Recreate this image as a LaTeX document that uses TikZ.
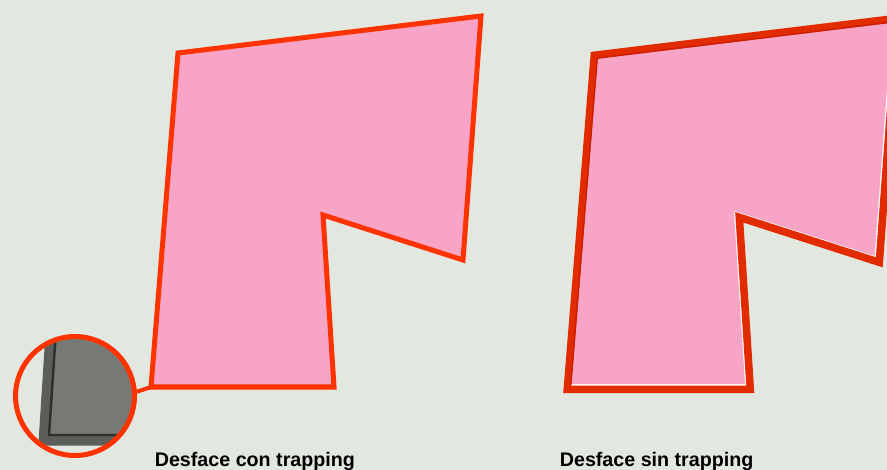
\documentclass[tikz,border=0pt]{standalone}
\usepackage{fontspec}
\setmainfont{Liberation Sans}
\definecolor{fondo}{HTML}{E2E7DF}
\definecolor{rosa}{HTML}{F7A4C7}
\definecolor{rojo}{HTML}{FF3300}
\definecolor{rojob}{HTML}{E32B00}
\definecolor{rojoc}{HTML}{CC1E00}
\definecolor{gris}{HTML}{777974}
\definecolor{grisb}{HTML}{5C5E5A}
\definecolor{grisc}{HTML}{2E302D}
\tikzset{
    forma/.style = {
        fill=rosa,
        draw=rojo,
        line width=2.85pt,
        miter limit=10
    },
    traza/.style = {
        draw=rojob,
        line width=4.3pt,
        miter limit=10
    },
    lupa/.style = {
        draw=rojo,
        shape=circle,
        minimum size=2.38cm,
        inner sep=0pt,
        line width=2.85pt
    },
    rotulo/.style = {
        anchor=base west,
        inner sep=0pt,
        font=\bfseries\fontsize{11.2pt}{13pt}\selectfont
    },
    desfase/.style = {
        transform canvas={xshift=0.026cm, yshift=-0.026cm}
    },
}

\begin{document}
\begin{tikzpicture}[x=0.02cm, y=-0.02cm]
                \path[use as bounding box, fill=fondo] (0,0) rectangle (887,470);
                \clip (0,0) rectangle (887,470);

                \coordinate (p1) at (178,53);
                \coordinate (p2) at (481,16);
                \coordinate (p3) at (463,260);
                \coordinate (p4) at (323,215);
                \coordinate (p5) at (334,387);
                \coordinate (p6) at (151,387);
                \coordinate (centro) at (75,396);

                \begin{scope}
                    \clip (centro) circle [radius=1.16cm];
                    \fill[grisb] (46.3,320) -- (38.3,445.5) -- (150,445.5) -- (150,320) -- cycle;
                    \fill[gris] (56.7,320) -- (49,435) -- (150,435) -- (150,320) -- cycle;
                    \draw[grisc, line width=1.4pt] (56.7,320) -- (49,435) -- (150,435);
                \end{scope}
                \node[lupa] (zoom) at (centro) {};
                \path[draw=rojo, line width=2.3pt] (zoom.4) -- (p6);

                \path[forma] (p1) -- (p2) -- (p3) -- (p4) -- (p5) -- (p6) -- cycle;

                \coordinate (q1) at (593,54);
                \coordinate (q2) at (896,17);
                \coordinate (q3) at (878,261);
                \coordinate (q4) at (738,216);
                \coordinate (q5) at (749,388);
                \coordinate (q6) at (566,388);
                \coordinate (r1) at (596.6,57.4);
                \coordinate (r2) at (891.9,21.3);
                \coordinate (r3) at (874.6,255.9);
                \coordinate (r4) at (733.9,210.8);
                \coordinate (r5) at (745,384.2);
                \coordinate (r6) at (570.1,384.2);

                \fill[white] (q1) -- (q2) -- (q3) -- (q4) -- (q5) -- (q6) -- cycle;
                \fill[rosa] (r1) -- (r2) -- (r3) -- (r4) -- (r5) -- (r6) -- cycle;
                \begin{scope}[desfase]
                    \path[traza] (q1) -- (q2) -- (q3) -- (q4) -- (q5) -- (q6) -- cycle;
                \end{scope}
                \begin{scope}
                    \clip (r1) -- (r2) -- (r3) -- (r4) -- (r5) -- (r6) -- cycle;
                    \begin{scope}[desfase]
                        \path[traza, draw=rojoc] (q1) -- (q2) -- (q3) -- (q4) -- (q5) -- (q6) -- cycle;
                    \end{scope}
                \end{scope}

                \node[rotulo] (con) at (154.5,466) {Desface con trapping};
                \node[rotulo] (sin) at (559.5,466) {Desface sin trapping};
\end{tikzpicture}
\end{document}
